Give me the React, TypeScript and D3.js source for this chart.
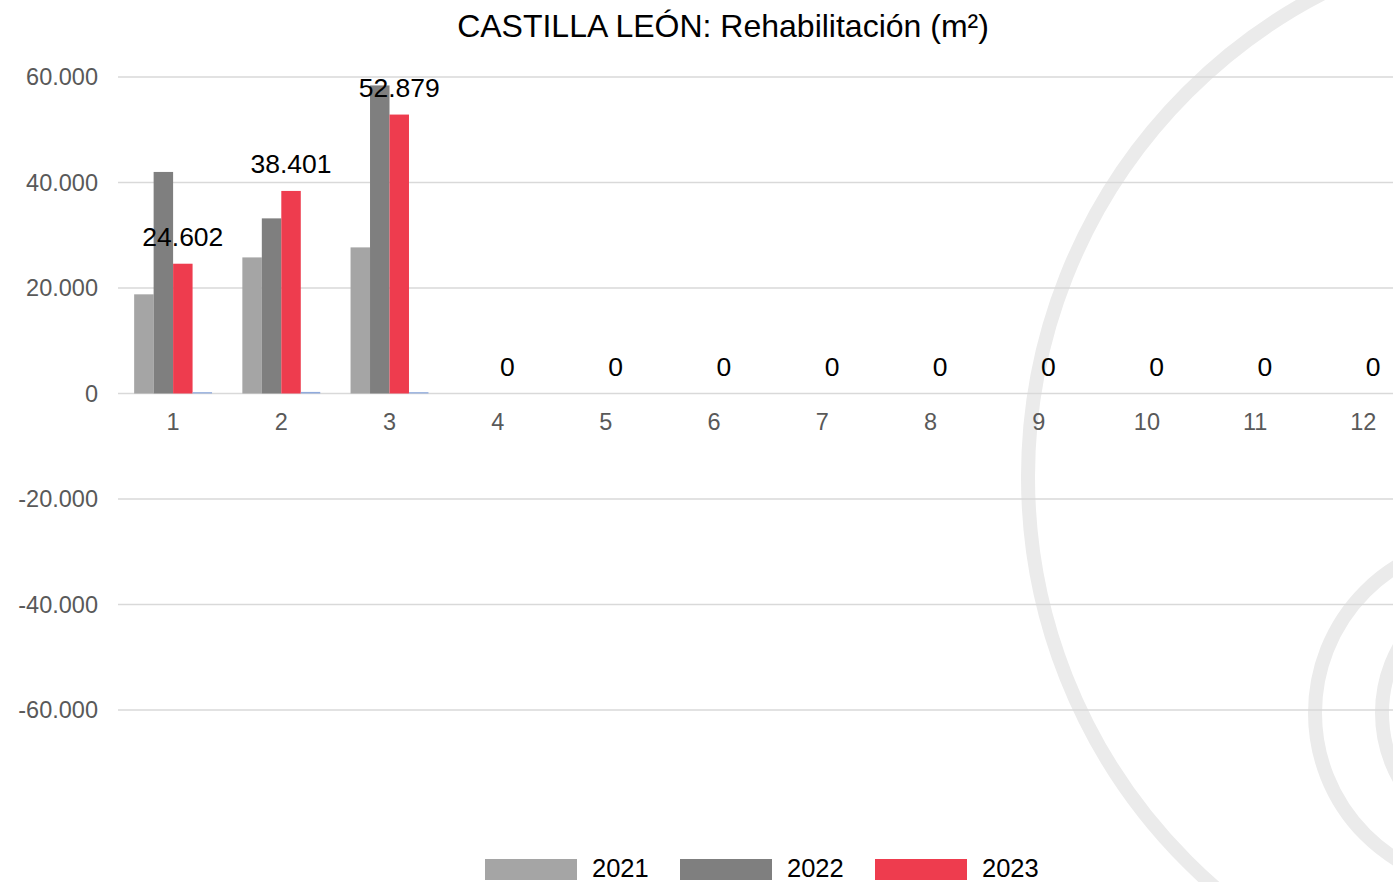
import { useEffect, useRef } from "react";
import * as d3 from "d3";

const months = ["1", "2", "3", "4", "5", "6", "7", "8", "9", "10", "11", "12"];
const values2021 = [18800, 25800, 27700, 0, 0, 0, 0, 0, 0, 0, 0, 0];
const values2022 = [42000, 33200, 58400, 0, 0, 0, 0, 0, 0, 0, 0, 0];
const values2023 = [24602, 38401, 52879, 0, 0, 0, 0, 0, 0, 0, 0, 0];
const valuesOther = [250, 300, 250, 0, 0, 0, 0, 0, 0, 0, 0, 0];
const yTicks = [-60000, -40000, -20000, 0, 20000, 40000, 60000];
const legendYears = ["2021", "2022", "2023"];

const FONT = "'Liberation Sans', Arial, sans-serif";

const App = () => {
  const svgRef = useRef(null);
  const W = 1393;
  const H = 882;

  useEffect(() => {
    const svg = d3.select(svgRef.current);
    svg.selectAll("*").remove();

    const esLocale = d3.formatLocale({
      decimal: ",",
      thousands: ".",
      grouping: [3],
      currency: ["", " €"],
      minus: "-",
    });
    const fmt = esLocale.format(",.0f");

    // background watermark arcs
    const deco = [
      { cx: 1572, cy: 477, r: 544 },
      { cx: 1487, cy: 713, r: 172 },
      { cx: 1516, cy: 713, r: 134 },
    ];
    svg
      .append("g")
      .selectAll("circle")
      .data(deco)
      .enter()
      .append("circle")
      .attr("cx", (d) => d.cx)
      .attr("cy", (d) => d.cy)
      .attr("r", (d) => d.r)
      .attr("fill", "none")
      .attr("stroke", "#ebebeb")
      .attr("stroke-width", 14);

    const yScale = d3.scaleLinear().domain([-60000, 60000]).range([710, 77]);

    const xScale = d3
      .scaleBand()
      .domain(months)
      .range([119, 119 + 12 * 108.2])
      .paddingInner(0.28)
      .paddingOuter(0.14);

    const series = [
      { key: "2021", values: values2021, color: "#a5a5a5" },
      { key: "2022", values: values2022, color: "#7f7f7f" },
      { key: "2023", values: values2023, color: "#ee3c4e" },
      { key: "otro", values: valuesOther, color: "#8faadc" },
    ];
    const subScale = d3
      .scaleBand()
      .domain(series.map((s) => s.key))
      .range([0, xScale.bandwidth()]);

    // gridlines
    svg
      .append("g")
      .selectAll("line")
      .data(yTicks)
      .enter()
      .append("line")
      .attr("x1", 118)
      .attr("x2", W)
      .attr("y1", (d) => yScale(d))
      .attr("y2", (d) => yScale(d))
      .attr("stroke", "#d9d9d9")
      .attr("stroke-width", 1.5);

    // y labels
    svg
      .append("g")
      .selectAll("text")
      .data(yTicks)
      .enter()
      .append("text")
      .attr("x", 98)
      .attr("y", (d) => yScale(d))
      .attr("dy", "0.35em")
      .attr("text-anchor", "end")
      .attr("fill", "#595959")
      .style("font-family", FONT)
      .style("font-size", "23.5px")
      .text((d) => fmt(d));

    // x labels
    svg
      .append("g")
      .selectAll("text")
      .data(months)
      .enter()
      .append("text")
      .attr("x", (d) => xScale(d) + xScale.bandwidth() / 2)
      .attr("y", 430)
      .attr("text-anchor", "middle")
      .attr("fill", "#595959")
      .style("font-family", FONT)
      .style("font-size", "23.5px")
      .text((d) => d);

    // bars
    series.forEach((s) => {
      svg
        .append("g")
        .selectAll("rect")
        .data(s.values)
        .enter()
        .append("rect")
        .attr("x", (d, i) => xScale(months[i]) + subScale(s.key))
        .attr("width", subScale.bandwidth())
        .attr("y", (d) => yScale(Math.max(d, 0)))
        .attr("height", (d) => Math.abs(yScale(d) - yScale(0)))
        .attr("fill", s.color);
    });

    // data labels for 2023
    svg
      .append("g")
      .selectAll("text")
      .data(values2023)
      .enter()
      .append("text")
      .attr("x", (d, i) => xScale(months[i]) + subScale("2023") + subScale.bandwidth() / 2)
      .attr("y", (d) => yScale(d) - 17.5)
      .attr("text-anchor", "middle")
      .attr("fill", "#000000")
      .style("font-family", FONT)
      .style("font-size", "26.5px")
      .text((d) => fmt(d));

    // title
    svg
      .append("text")
      .attr("x", 723)
      .attr("y", 37)
      .attr("text-anchor", "middle")
      .attr("fill", "#000000")
      .style("font-family", FONT)
      .style("font-size", "32px")
      .text("CASTILLA LEÓN: Rehabilitación (m²)");

    // legend
    const legendX = [485, 680, 875];
    const legend = svg
      .append("g")
      .selectAll("g")
      .data(legendYears)
      .enter()
      .append("g")
      .attr("transform", (d, i) => `translate(${legendX[i]}, 0)`);
    legend
      .append("rect")
      .attr("x", 0)
      .attr("y", 859)
      .attr("width", 92)
      .attr("height", 21)
      .attr("fill", (d, i) => series[i].color);
    legend
      .append("text")
      .attr("x", 107)
      .attr("y", 877)
      .attr("fill", "#000000")
      .style("font-family", FONT)
      .style("font-size", "25.5px")
      .text((d) => d);
  }, []);

  return (
    <svg
      ref={svgRef}
      width={W}
      height={H}
      style={{ position: "absolute", left: 0, top: 0, display: "block", background: "#ffffff" }}
    ></svg>
  );
};

export default App;
